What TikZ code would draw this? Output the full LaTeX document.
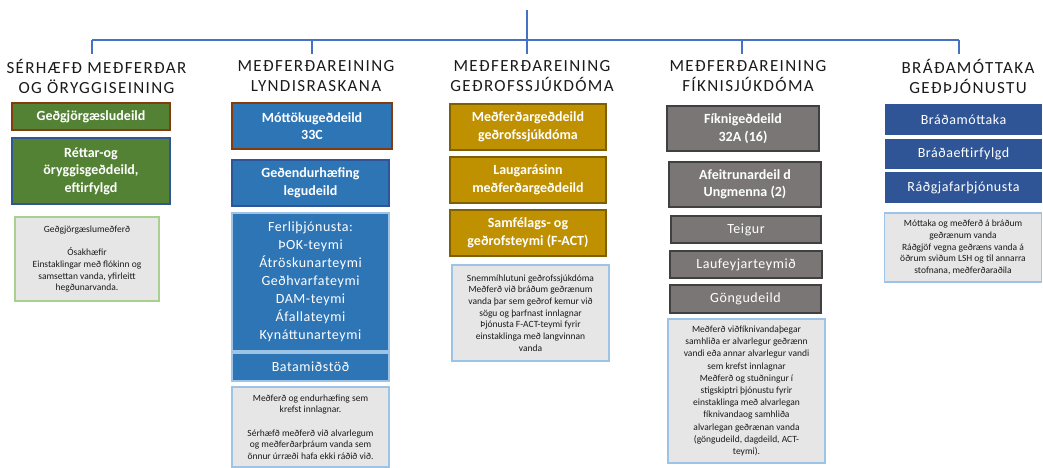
\documentclass[tikz,border=0pt]{standalone}
\usepackage{fontspec}
\setmainfont{Carlito}
\newfontfamily\hdrfont[LetterSpace=8]{Carlito}
\newfontfamily\boxfont[LetterSpace=4]{Carlito}
\definecolor{lineblue}{HTML}{4472C4}
\definecolor{grn}{HTML}{548235}
\definecolor{brownb}{HTML}{843C0C}
\definecolor{darkblueb}{HTML}{2F5597}
\definecolor{blu}{HTML}{2E75B6}
\definecolor{lightblueb}{HTML}{9DC3E6}
\definecolor{gold}{HTML}{BF9000}
\definecolor{goldb}{HTML}{7F6000}
\definecolor{gry}{HTML}{7A7676}
\definecolor{gryb}{HTML}{404040}
\definecolor{navy}{HTML}{2F5597}
\definecolor{notegray}{HTML}{E7E6E6}
\definecolor{lightgreenb}{HTML}{A9D18E}
\definecolor{txt}{HTML}{1A1A1A}
\tikzset{
  conn/.style={draw=lineblue, line width=1.8pt},
  hdr/.style={align=center, inner sep=0pt, text=txt, font=\hdrfont\fontsize{17}{20}\selectfont},
  bbox/.style={draw, line width=1.2pt, align=center, text=white, inner sep=0pt, font=\bfseries\fontsize{14}{17.5}\selectfont},
  rbox/.style={draw, line width=1.2pt, align=center, text=white, inner sep=0pt, font=\boxfont\fontsize{14}{18}\selectfont},
  notebox/.style={draw, line width=1.2pt, fill=notegray, align=center, inner sep=0pt, text=txt, font=\fontsize{9.5}{11.7}\selectfont},
}
\begin{document}
\begin{tikzpicture}[x=1pt,y=-1pt]
\useasboundingbox (0,0) rectangle (1043,468);

% headers
\node[hdr] (h1) at (96.5,76) {SÉRHÆFÐ MEÐFERÐAR\\OG ÖRYGGISEINING};
\node[hdr] (h2) at (316,76) {MEÐFERÐAREINING\\LYNDISRASKANA};
\node[hdr] (h3) at (532,76) {MEÐFERÐAREINING\\GEÐROFSSJÚKDÓMA};
\node[hdr] (h4) at (748,76) {MEÐFERÐAREINING\\FÍKNISJÚKDÓMA};
\node[hdr] (h5) at (968,76) {BRÁÐAMÓTTAKA\\GEÐÞJÓNUSTU};

% connectors
\coordinate (top) at (527,10);
\coordinate (bar) at (527,40);
\coordinate (d1) at (92,54);
\coordinate (d2) at (312,54);
\coordinate (d3) at (527,54);
\coordinate (d4) at (742,54);
\coordinate (d5) at (959,54);
\draw[conn] (top) -- (bar);
\draw[conn] (d1 |- bar) -- (d5 |- bar);
\foreach \d in {d1,d2,d3,d4,d5} \draw[conn] (\d |- bar) -- (\d);

% column 1
\node[bbox, fill=grn, draw=brownb, minimum width=158pt, minimum height=27pt] (c1b1) at (91,116.5) {Geðgjörgæsludeild};
\node[bbox, fill=grn, draw=darkblueb, minimum width=158pt, minimum height=66pt] (c1b2) at (91,171) {Réttar-og\\öryggisgeðdeild,\\eftirfylgd};
\node[notebox, draw=lightgreenb, minimum width=144pt, minimum height=84pt] (c1n) at (87,259) {Geðgjörgæslumeðferð\\[11.7pt]Ósakhæfir\\Einstaklingar með flókinn og\\samsettan vanda, yfirleitt\\hegðunarvanda.};

% column 2
\node[bbox, fill=blu, draw=brownb, minimum width=160pt, minimum height=46pt] (c2b1) at (312,126) {Móttökugeðdeild\\33C};
\node[bbox, fill=blu, draw=darkblueb, minimum width=157pt, minimum height=46pt] (c2b2) at (310.5,183) {Geðendurhæfing\\legudeild};
\node[rbox, fill=blu, draw=lightblueb, minimum width=157pt, minimum height=138pt] (c2b3) at (310.5,282) {Ferliþjónusta:\\ÞOK-teymi\\Átröskunarteymi\\Geðhvarfateymi\\DAM-teymi\\Áfallateymi\\Kynáttunarteymi};
\node[rbox, fill=blu, draw=lightblueb, minimum width=157pt, minimum height=28pt] (c2b4) at (310.5,367) {Batamiðstöð};
\node[notebox, draw=lightblueb, minimum width=157pt, minimum height=80pt] (c2n) at (310.5,427) {Meðferð og endurhæfing sem\\krefst innlagnar.\\[11.7pt]Sérhæfð meðferð við alvarlegum\\og meðferðarþráum vanda sem\\önnur úrræði hafa ekki ráðið við.};

% column 3
\node[bbox, fill=gold, draw=goldb, minimum width=156pt, minimum height=46pt] (c3b1) at (528,127) {Meðferðargeðdeild\\geðrofssjúkdóma};
\node[bbox, fill=gold, draw=goldb, minimum width=156pt, minimum height=46pt] (c3b2) at (528,180) {Laugarásinn\\meðferðargeðdeild};
\node[bbox, fill=gold, draw=goldb, minimum width=156pt, minimum height=46pt] (c3b3) at (528,233) {Samfélags- og\\geðrofsteymi (F-ACT)};
\node[notebox, draw=lightblueb, minimum width=157pt, minimum height=96pt] (c3n) at (530.5,313) {Snemmíhlutuni geðrofssjúkdóma\\Meðferð við bráðum geðrænum\\vanda þar sem geðrof kemur við\\sögu og þarfnast innlagnar\\Þjónusta F-ACT-teymi fyrir\\einstaklinga með langvinnan\\vanda};

% column 4
\node[bbox, fill=gry, draw=gryb, minimum width=152pt, minimum height=45pt] (c4b1) at (743,128.5) {Fíknigeðdeild\\32A (16)};
\node[bbox, fill=gry, draw=gryb, minimum width=152pt, minimum height=45pt] (c4b2) at (745,184.5) {Afeitrunardeil d\\Ungmenna (2)};
\node[rbox, fill=gry, draw=gryb, minimum width=150pt, minimum height=27pt] (c4b3) at (746,229.5) {Teigur};
\node[rbox, fill=gry, draw=gryb, minimum width=152pt, minimum height=27pt] (c4b4) at (746,264.5) {Laufeyjarteymið};
\node[rbox, fill=gry, draw=gryb, minimum width=151pt, minimum height=28pt] (c4b5) at (745.5,299) {Göngudeild};
\node[notebox, draw=lightblueb, minimum width=157pt, minimum height=144pt, font=\fontsize{9.5}{12.2}\selectfont] (c4n) at (746.5,391) {Meðferð viðfíknivandaþegar\\samhliða er alvarlegur geðrænn\\vandi eða annar alvarlegur vandi\\sem krefst innlagnar\\Meðferð og stuðningur í\\stigskiptri þjónustu fyrir\\einstaklinga með alvarlegan\\fíknivandaog samhliða\\alvarlegan geðrænan vanda\\(göngudeild, dagdeild, ACT-\\teymi).};

% column 5
\node[rbox, fill=navy, draw=navy, minimum width=155pt, minimum height=29pt] (c5b1) at (963.5,119.5) {Bráðamóttaka};
\node[rbox, fill=navy, draw=navy, minimum width=155pt, minimum height=28pt] (c5b2) at (963.5,154) {Bráðaeftirfylgd};
\node[rbox, fill=navy, draw=navy, minimum width=155pt, minimum height=29pt] (c5b3) at (963.5,187.5) {Ráðgjafarþjónusta};
\node[notebox, draw=lightblueb, minimum width=157pt, minimum height=69pt] (c5n) at (963,247.5) {Móttaka og meðferð á bráðum\\geðrænum vanda\\Ráðgjöf vegna geðræns vanda á\\öðrum sviðum LSH og til annarra\\stofnana, meðferðaraðila};
\end{tikzpicture}
\end{document}
